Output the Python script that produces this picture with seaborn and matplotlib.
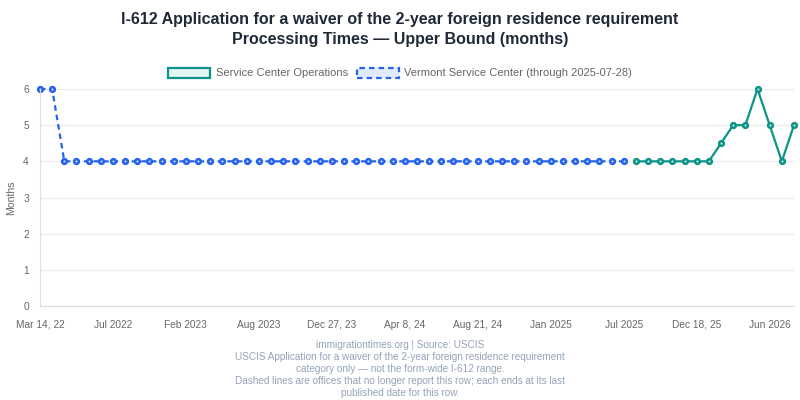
import matplotlib
matplotlib.use("Agg")
import matplotlib.pyplot as plt
from matplotlib.patches import Patch
import seaborn as sns
import pandas as pd

# Dados (eixo x categórico, um ponto por data publicada)
vermont_vals = [6, 6, 4, 4, 4, 4, 4, 4, 4, 4, 4, 4, 4, 4, 4, 4, 4, 4, 4, 4,
                4, 4, 4, 4, 4, 4, 4, 4, 4, 4, 4, 4, 4, 4, 4, 4, 4, 4, 4, 4,
                4, 4, 4, 4, 4, 4, 4, 4, 4]
operations_vals = [4, 4, 4, 4, 4, 4, 4, 4.5, 5, 5, 6, 5, 4, 5]
tick_labels = ["Mar 14, 22", "Jul 2022", "Feb 2023", "Aug 2023", "Dec 27, 23",
               "Apr 8, 24", "Aug 21, 24", "Jan 2025", "Jul 2025", "Dec 18, 25",
               "Jun 2026"]
tick_step = 6

BLUE = "#2563eb"
GREEN = "#0d9488"

df_vt = pd.DataFrame({"x": range(len(vermont_vals)), "y": vermont_vals})
start = len(vermont_vals)
df_op = pd.DataFrame({"x": range(start, start + len(operations_vals)), "y": operations_vals})

sns.set_style("white")
plt.rcParams["font.family"] = ["Liberation Sans", "DejaVu Sans"]

fig = plt.figure(figsize=(8, 4), dpi=100)
ax = fig.add_axes([0.05, 0.235, 0.9425, 0.5425])

sns.lineplot(data=df_vt, x="x", y="y", ax=ax, color=BLUE, linewidth=1.6,
             marker="o", markersize=3.4, markerfacecolor="#c9d8fb",
             markeredgecolor=BLUE, markeredgewidth=1.8, clip_on=False)
ax.lines[-1].set_dashes((2.5, 1.8))
sns.lineplot(data=df_op, x="x", y="y", ax=ax, color=GREEN, linewidth=1.6,
             marker="o", markersize=3.4, markerfacecolor="#c4e8e4",
             markeredgecolor=GREEN, markeredgewidth=1.8, clip_on=False)

n_total = start + len(operations_vals)
ax.set_xlim(0, n_total - 1)
ax.set_ylim(0, 6)
ax.set_yticks(range(0, 7))
ax.set_xticks([i * tick_step for i in range(len(tick_labels))])
ax.set_xticklabels(tick_labels)
ax.tick_params(axis="both", labelsize=7.3, colors="#666666", length=0)
ax.tick_params(axis="x", pad=10)
ax.tick_params(axis="y", pad=8)
ax.grid(axis="y", color="#ebebeb", linewidth=0.8)
for side in ["top", "right"]:
    ax.spines[side].set_visible(False)
ax.spines["left"].set_color("#e0e0e0")
ax.spines["bottom"].set_color("#d8dde6")
ax.set_xlabel("")
ax.set_ylabel("Months", fontsize=7.6, color="#666666", labelpad=5)

fig.text(0.5, 0.952, "I-612 Application for a waiver of the 2-year foreign residence requirement",
         ha="center", va="center", fontsize=11.5, fontweight="bold", color="#1f2937")
fig.text(0.5, 0.902, "Processing Times \u2014 Upper Bound (months)",
         ha="center", va="center", fontsize=11.5, fontweight="bold", color="#1f2937")

handles = [
    Patch(facecolor="#e3f4f2", edgecolor=GREEN, linewidth=1.6, label="Service Center Operations"),
    Patch(facecolor="#e2eafd", edgecolor=BLUE, linewidth=1.6, linestyle=(0, (2.5, 1.8)),
          label="Vermont Service Center (through 2025-07-28)"),
]
fig.legend(handles=handles, loc="center", bbox_to_anchor=(0.5, 0.8175), ncol=2,
           frameon=False, fontsize=8, labelcolor="#666666", handlelength=3.8,
           handleheight=1.0, columnspacing=0.8, handletextpad=0.5)

footer = ["immigrationtimes.org | Source: USCIS",
          "USCIS Application for a waiver of the 2-year foreign residence requirement",
          "category only \u2014 not the form-wide I-612 range.",
          "Dashed lines are offices that no longer report this row; each ends at its last",
          "published date for this row."]
for i, line in enumerate(footer):
    fig.text(0.5, 1 - (345 + i * 12) / 400, line, ha="center", va="center",
             fontsize=7.2, color="#94a3b8")

fig.savefig("out.png", dpi=100)
